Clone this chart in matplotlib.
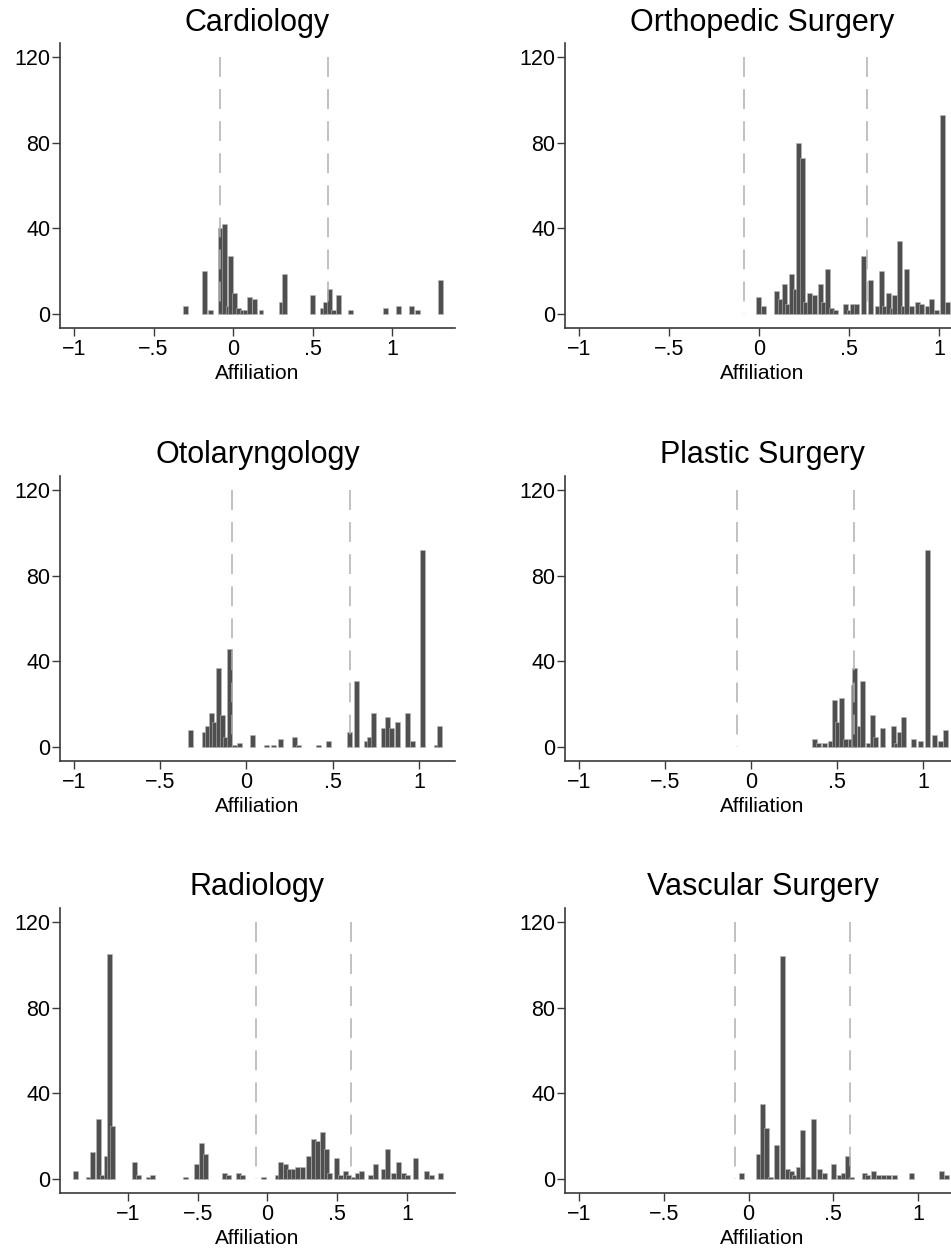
import matplotlib
matplotlib.use("Agg")
import matplotlib.pyplot as plt

plt.rcParams['font.family'] = ['Liberation Sans', 'DejaVu Sans']

# Frequencies of affiliation scores by specialty (bar position, count)
cardio_x = [-0.297, -0.177, -0.142, -0.079, -0.056, -0.030, -0.017, 0.009, 0.036,
            0.061, 0.078, 0.104, 0.138, 0.176, 0.306, 0.324, 0.502, 0.560, 0.581,
            0.604, 0.631, 0.664, 0.741, 0.961, 1.041, 1.123, 1.162, 1.303]
cardio_n = [4, 20, 2, 40, 42, 4, 27, 10, 3,
            2, 2, 8, 7, 2, 6, 19, 9, 3, 6,
            12, 2, 9, 2, 3, 4, 4, 2, 16]

ortho_x = [-0.001, 0.027, 0.099, 0.119, 0.140, 0.159, 0.181, 0.202, 0.221, 0.243,
           0.257, 0.280, 0.307, 0.340, 0.357, 0.379, 0.404, 0.424, 0.479, 0.502,
           0.520, 0.539, 0.579, 0.619, 0.656, 0.678, 0.698, 0.718, 0.741, 0.754,
           0.779, 0.800, 0.819, 0.844, 0.879, 0.902, 0.936, 0.960, 0.983, 1.019,
           1.045]
ortho_n = [8, 4, 11, 7, 14, 5, 19, 12, 80, 73,
           6, 10, 9, 14, 6, 21, 3, 2, 5, 2,
           5, 5, 27, 16, 4, 20, 4, 10, 3, 9,
           34, 4, 21, 4, 6, 5, 4, 7, 2, 93,
           6]

oto_x = [-0.322, -0.246, -0.226, -0.202, -0.184, -0.163, -0.138, -0.121, -0.101,
         -0.068, -0.042, 0.037, 0.119, 0.157, 0.196, 0.279, 0.299, 0.418, 0.478,
         0.598, 0.638, 0.696, 0.715, 0.739, 0.795, 0.819, 0.843, 0.876, 0.936,
         0.961, 1.021, 1.099, 1.122]
oto_n = [8, 7, 10, 16, 12, 37, 15, 5, 46,
         1, 2, 6, 1, 1, 4, 5, 1, 1, 3,
         7, 31, 3, 5, 16, 9, 14, 9, 12, 16,
         3, 92, 1, 10]

plastic_x = [0.367, 0.391, 0.425, 0.464, 0.485, 0.505, 0.527, 0.550, 0.576, 0.597,
             0.604, 0.628, 0.646, 0.682, 0.706, 0.724, 0.766, 0.827, 0.845, 0.861,
             0.887, 0.947, 0.985, 1.026, 1.067, 1.102, 1.129]
plastic_n = [4, 2, 2, 3, 22, 12, 23, 4, 4, 29,
             37, 10, 31, 2, 15, 5, 9, 10, 2, 7,
             14, 4, 3, 92, 6, 3, 8]

radio_x = [-1.375, -1.281, -1.251, -1.213, -1.181, -1.156, -1.131, -1.110, -0.952,
           -0.925, -0.853, -0.827, -0.589, -0.510, -0.470, -0.442, -0.307, -0.280,
           -0.207, -0.179, -0.025, 0.069, 0.093, 0.127, 0.159, 0.189, 0.214, 0.252,
           0.296, 0.332, 0.360, 0.395, 0.425, 0.442, 0.498, 0.526, 0.558, 0.583,
           0.616, 0.643, 0.677, 0.738, 0.774, 0.834, 0.861, 0.900, 0.938, 0.974,
           1.007, 1.061, 1.139, 1.177, 1.241]
radio_n = [4, 1, 13, 28, 2, 11, 105, 25, 8,
           2, 1, 2, 1, 7, 17, 12, 3, 2,
           3, 2, 1, 2, 8, 7, 5, 5, 6, 6,
           11, 19, 18, 22, 14, 3, 10, 2, 4, 2,
           1, 3, 4, 2, 7, 5, 14, 3, 8, 3,
           2, 10, 4, 2, 3]

vasc_x = [-0.040, 0.060, 0.082, 0.105, 0.131, 0.162, 0.199, 0.228, 0.252, 0.270,
          0.297, 0.320, 0.346, 0.383, 0.420, 0.447, 0.501, 0.536, 0.559, 0.582,
          0.608, 0.681, 0.703, 0.739, 0.769, 0.798, 0.828, 0.860, 0.961, 1.138,
          1.167]
vasc_n = [3, 12, 35, 24, 1, 16, 104, 5, 4, 2,
          6, 23, 1, 28, 5, 3, 7, 2, 3, 11,
          1, 3, 2, 4, 2, 2, 2, 2, 3, 4,
          2]

# cut points shown as dashed lines
cutoffs = [-0.083, 0.6]

W, H = 951, 1253
fig = plt.figure(figsize=(W / 100, H / 100), dpi=100)

BAR = '#4f4f4f'
AXIS = '#3a3a3a'


def panel(left, top, title, xs, ns, xlim, barw):
    # left/top in pixels, plot region 395 x 285 px
    ax = fig.add_axes([left / W, 1 - (top + 285) / H, 395 / W, 285 / H])
    ax.bar(xs, ns, width=barw, color=BAR, edgecolor='#b8b8b8', linewidth=0.4, zorder=2)
    for c in cutoffs:
        ax.plot([c, c], [120, 0], color='#b0b0b0', lw=1.1, dashes=(13, 8), zorder=3)
    ax.set_xlim(*xlim)
    ax.set_ylim(-6.3, 126.3)
    ax.set_yticks([0, 40, 80, 120])
    ax.set_yticklabels(['0', '40', '80', '120'])
    ax.set_xticks([-1, -0.5, 0, 0.5, 1])
    ax.set_xticklabels(['\u22121', '\u2212.5', '0', '.5', '1'])
    for s in ['top', 'right']:
        ax.spines[s].set_visible(False)
    for s in ['left', 'bottom']:
        ax.spines[s].set_color(AXIS)
        ax.spines[s].set_linewidth(1.2)
    ax.tick_params(axis='both', direction='out', length=5.5, width=1.0,
                   color=AXIS, labelsize=15.5, labelcolor='black')
    ax.tick_params(axis='y', pad=1.5)
    ax.tick_params(axis='x', pad=2.5)
    ax.set_title(title, fontsize=22, pad=9)
    ax.set_xlabel('Affiliation', fontsize=15, labelpad=2.5)
    return ax


panel(60, 43, 'Cardiology', cardio_x, cardio_n, (-1.088, 1.396), 0.0314)
panel(565, 43, 'Orthopedic Surgery', ortho_x, ortho_n, (-1.078, 1.116), 0.0278)
panel(60, 476, 'Otolaryngology', oto_x, oto_n, (-1.081, 1.209), 0.029)
panel(565, 476, 'Plastic Surgery', plastic_x, plastic_n, (-1.081, 1.215), 0.029)
panel(60, 908, 'Radiology', radio_x, radio_n, (-1.487, 1.344), 0.0358)
panel(565, 908, 'Vascular Surgery', vasc_x, vasc_n, (-1.083, 1.247), 0.0295)

fig.savefig('out.png', dpi=100, facecolor='white')
